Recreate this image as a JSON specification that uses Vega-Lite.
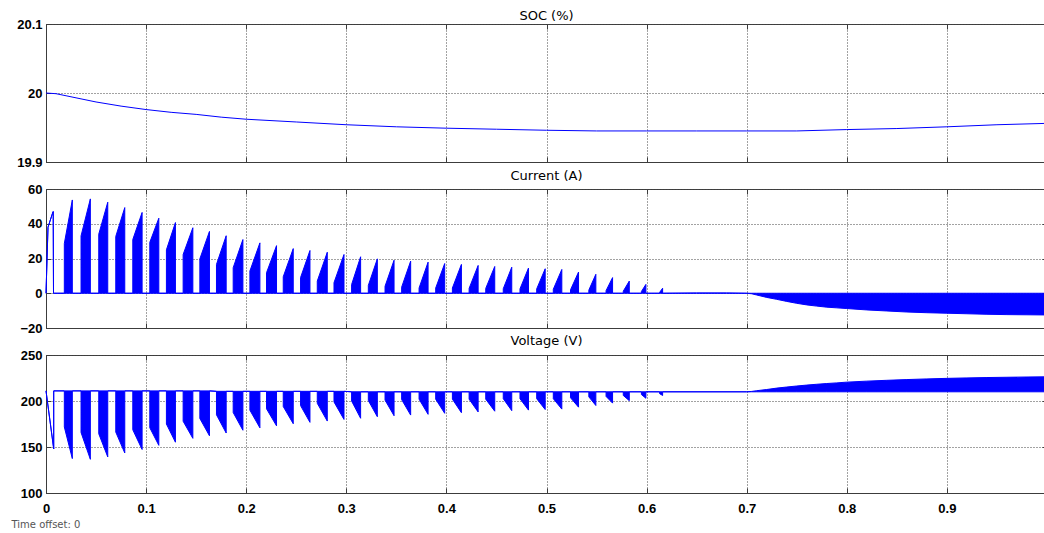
{
"$schema": "https://vega.github.io/schema/vega-lite/v6.json",
"padding": {"left": 10, "top": 9, "right": 0, "bottom": 0},
"background": "white",
"spacing": 27,
"bounds": "flush",
"datasets": {
"soc": [
{"t":0,"v":20.0},{"t":0.01,"v":19.999},{"t":0.02,"v":19.996},{"t":0.03,"v":19.993},{"t":0.05,"v":19.987},{"t":0.075,"v":19.981},{"t":0.1,"v":19.976},{"t":0.125,"v":19.972},{"t":0.15,"v":19.969},{"t":0.175,"v":19.965},{"t":0.2,"v":19.962},{"t":0.25,"v":19.958},{"t":0.3,"v":19.954},{"t":0.35,"v":19.951},{"t":0.4,"v":19.949},{"t":0.45,"v":19.9475},{"t":0.5,"v":19.946},{"t":0.55,"v":19.945},{"t":0.6,"v":19.945},{"t":0.65,"v":19.945},{"t":0.7,"v":19.945},{"t":0.75,"v":19.945},{"t":0.8,"v":19.947},{"t":0.85,"v":19.9485},{"t":0.9,"v":19.951},{"t":0.95,"v":19.954},{"t":1.0,"v":19.956}
],
"cur": [
{"t":0,"lo":0,"hi":0},{"t":0.002,"lo":38,"hi":38},{"t":0.0065,"lo":46,"hi":46},{"t":0.0072,"lo":47,"hi":47},{"t":0.0075,"lo":0,"hi":0},
{"t":0.0183,"lo":0,"hi":0},{"t":0.0183,"lo":0,"hi":28.6},{"t":0.0263,"lo":0,"hi":53.7},{"t":0.0263,"lo":0,"hi":0},
{"t":0.0350,"lo":0,"hi":0},{"t":0.0350,"lo":0,"hi":33.0},{"t":0.0443,"lo":0,"hi":54.3},{"t":0.0443,"lo":0,"hi":0},
{"t":0.0527,"lo":0,"hi":0},{"t":0.0527,"lo":0,"hi":34.0},{"t":0.0617,"lo":0,"hi":52.4},{"t":0.0617,"lo":0,"hi":0},
{"t":0.0697,"lo":0,"hi":0},{"t":0.0697,"lo":0,"hi":32.7},{"t":0.0787,"lo":0,"hi":49.3},{"t":0.0787,"lo":0,"hi":0},
{"t":0.0867,"lo":0,"hi":0},{"t":0.0867,"lo":0,"hi":30.9},{"t":0.0960,"lo":0,"hi":46.5},{"t":0.0960,"lo":0,"hi":0},
{"t":0.1037,"lo":0,"hi":0},{"t":0.1037,"lo":0,"hi":29.3},{"t":0.1127,"lo":0,"hi":43.2},{"t":0.1127,"lo":0,"hi":0},
{"t":0.1203,"lo":0,"hi":0},{"t":0.1203,"lo":0,"hi":25.0},{"t":0.1293,"lo":0,"hi":40.7},{"t":0.1293,"lo":0,"hi":0},
{"t":0.1370,"lo":0,"hi":0},{"t":0.1370,"lo":0,"hi":22.3},{"t":0.1467,"lo":0,"hi":37.7},{"t":0.1467,"lo":0,"hi":0},
{"t":0.1537,"lo":0,"hi":0},{"t":0.1537,"lo":0,"hi":19.8},{"t":0.1633,"lo":0,"hi":35.6},{"t":0.1633,"lo":0,"hi":0},
{"t":0.1703,"lo":0,"hi":0},{"t":0.1703,"lo":0,"hi":16.6},{"t":0.1800,"lo":0,"hi":33.1},{"t":0.1800,"lo":0,"hi":0},
{"t":0.1870,"lo":0,"hi":0},{"t":0.1870,"lo":0,"hi":14.7},{"t":0.1967,"lo":0,"hi":30.9},{"t":0.1967,"lo":0,"hi":0},
{"t":0.2037,"lo":0,"hi":0},{"t":0.2037,"lo":0,"hi":12.8},{"t":0.2137,"lo":0,"hi":29.0},{"t":0.2137,"lo":0,"hi":0},
{"t":0.2203,"lo":0,"hi":0},{"t":0.2203,"lo":0,"hi":11.8},{"t":0.2303,"lo":0,"hi":27.4},{"t":0.2303,"lo":0,"hi":0},
{"t":0.2370,"lo":0,"hi":0},{"t":0.2370,"lo":0,"hi":9.5},{"t":0.2470,"lo":0,"hi":25.7},{"t":0.2470,"lo":0,"hi":0},
{"t":0.2543,"lo":0,"hi":0},{"t":0.2543,"lo":0,"hi":9.0},{"t":0.2637,"lo":0,"hi":24.6},{"t":0.2637,"lo":0,"hi":0},
{"t":0.2710,"lo":0,"hi":0},{"t":0.2710,"lo":0,"hi":7.0},{"t":0.2810,"lo":0,"hi":23.6},{"t":0.2810,"lo":0,"hi":0},
{"t":0.2877,"lo":0,"hi":0},{"t":0.2877,"lo":0,"hi":6.1},{"t":0.2977,"lo":0,"hi":22.3},{"t":0.2977,"lo":0,"hi":0},
{"t":0.3053,"lo":0,"hi":0},{"t":0.3053,"lo":0,"hi":5.0},{"t":0.3143,"lo":0,"hi":21.0},{"t":0.3143,"lo":0,"hi":0},
{"t":0.3220,"lo":0,"hi":0},{"t":0.3220,"lo":0,"hi":4.5},{"t":0.3310,"lo":0,"hi":19.8},{"t":0.3310,"lo":0,"hi":0},
{"t":0.3387,"lo":0,"hi":0},{"t":0.3387,"lo":0,"hi":4.0},{"t":0.3477,"lo":0,"hi":19.0},{"t":0.3477,"lo":0,"hi":0},
{"t":0.3553,"lo":0,"hi":0},{"t":0.3553,"lo":0,"hi":3.5},{"t":0.3643,"lo":0,"hi":18.5},{"t":0.3643,"lo":0,"hi":0},
{"t":0.3727,"lo":0,"hi":0},{"t":0.3727,"lo":0,"hi":3.0},{"t":0.3817,"lo":0,"hi":17.9},{"t":0.3817,"lo":0,"hi":0},
{"t":0.3893,"lo":0,"hi":0},{"t":0.3893,"lo":0,"hi":3.0},{"t":0.3983,"lo":0,"hi":17.1},{"t":0.3983,"lo":0,"hi":0},
{"t":0.4060,"lo":0,"hi":0},{"t":0.4060,"lo":0,"hi":3.0},{"t":0.4150,"lo":0,"hi":16.6},{"t":0.4150,"lo":0,"hi":0},
{"t":0.4227,"lo":0,"hi":0},{"t":0.4227,"lo":0,"hi":2.8},{"t":0.4317,"lo":0,"hi":16.0},{"t":0.4317,"lo":0,"hi":0},
{"t":0.4393,"lo":0,"hi":0},{"t":0.4393,"lo":0,"hi":2.8},{"t":0.4483,"lo":0,"hi":15.4},{"t":0.4483,"lo":0,"hi":0},
{"t":0.4568,"lo":0,"hi":0},{"t":0.4568,"lo":0,"hi":2.6},{"t":0.4653,"lo":0,"hi":15.0},{"t":0.4653,"lo":0,"hi":0},
{"t":0.4735,"lo":0,"hi":0},{"t":0.4735,"lo":0,"hi":2.5},{"t":0.4820,"lo":0,"hi":14.5},{"t":0.4820,"lo":0,"hi":0},
{"t":0.4902,"lo":0,"hi":0},{"t":0.4902,"lo":0,"hi":2.5},{"t":0.4987,"lo":0,"hi":14.1},{"t":0.4987,"lo":0,"hi":0},
{"t":0.5068,"lo":0,"hi":0},{"t":0.5068,"lo":0,"hi":2.3},{"t":0.5153,"lo":0,"hi":13.7},{"t":0.5153,"lo":0,"hi":0},
{"t":0.5240,"lo":0,"hi":0},{"t":0.5240,"lo":0,"hi":2.0},{"t":0.5320,"lo":0,"hi":12.2},{"t":0.5320,"lo":0,"hi":0},
{"t":0.5423,"lo":0,"hi":0},{"t":0.5423,"lo":0,"hi":1.8},{"t":0.5493,"lo":0,"hi":10.9},{"t":0.5493,"lo":0,"hi":0},
{"t":0.5595,"lo":0,"hi":0},{"t":0.5595,"lo":0,"hi":1.5},{"t":0.5660,"lo":0,"hi":9.0},{"t":0.5660,"lo":0,"hi":0},
{"t":0.5767,"lo":0,"hi":0},{"t":0.5767,"lo":0,"hi":1.2},{"t":0.5827,"lo":0,"hi":7.0},{"t":0.5827,"lo":0,"hi":0},
{"t":0.5948,"lo":0,"hi":0},{"t":0.5948,"lo":0,"hi":1.0},{"t":0.5993,"lo":0,"hi":5.1},{"t":0.5993,"lo":0,"hi":0},
{"t":0.6130,"lo":0,"hi":0},{"t":0.6130,"lo":0,"hi":0.5},{"t":0.6160,"lo":0,"hi":2.9},{"t":0.6160,"lo":0,"hi":0},
{"t":0.65,"lo":0,"hi":0.2},{"t":0.68,"lo":0,"hi":0.2},{"t":0.70,"lo":0,"hi":0},
{"t":0.705,"lo":-0.3,"hi":0},{"t":0.71,"lo":-1.0,"hi":0},{"t":0.72,"lo":-2.4,"hi":0},{"t":0.73,"lo":-3.5,"hi":0},{"t":0.74,"lo":-4.7,"hi":0},{"t":0.75,"lo":-5.8,"hi":0},{"t":0.76,"lo":-6.7,"hi":0},{"t":0.77,"lo":-7.4,"hi":0},{"t":0.78,"lo":-8.0,"hi":0},{"t":0.79,"lo":-8.4,"hi":0},{"t":0.80,"lo":-8.8,"hi":0},{"t":0.82,"lo":-9.6,"hi":0},{"t":0.84,"lo":-10.2,"hi":0},{"t":0.86,"lo":-10.8,"hi":0},{"t":0.88,"lo":-11.2,"hi":0},{"t":0.90,"lo":-11.5,"hi":0},{"t":0.92,"lo":-11.8,"hi":0},{"t":0.94,"lo":-12.1,"hi":0},{"t":0.96,"lo":-12.3,"hi":0},{"t":0.98,"lo":-12.4,"hi":0},{"t":1.0,"lo":-12.5,"hi":0}
],
"volt": [
{"t":0,"lo":211,"hi":211},{"t":0.0077,"lo":148,"hi":148},{"t":0.0077,"lo":211,"hi":211},
{"t":0.0183,"lo":211,"hi":211},{"t":0.0183,"lo":171.8,"hi":211},{"t":0.0263,"lo":137.4,"hi":211},{"t":0.0263,"lo":211,"hi":211},
{"t":0.0350,"lo":211,"hi":211},{"t":0.0350,"lo":165.8,"hi":211},{"t":0.0443,"lo":136.6,"hi":211},{"t":0.0443,"lo":211,"hi":211},
{"t":0.0527,"lo":211,"hi":211},{"t":0.0527,"lo":164.4,"hi":211},{"t":0.0617,"lo":139.2,"hi":211},{"t":0.0617,"lo":211,"hi":211},
{"t":0.0697,"lo":211,"hi":211},{"t":0.0697,"lo":166.2,"hi":211},{"t":0.0787,"lo":143.5,"hi":211},{"t":0.0787,"lo":211,"hi":211},
{"t":0.0867,"lo":211,"hi":211},{"t":0.0867,"lo":168.7,"hi":211},{"t":0.0960,"lo":147.3,"hi":211},{"t":0.0960,"lo":211,"hi":211},
{"t":0.1037,"lo":211,"hi":211},{"t":0.1037,"lo":170.9,"hi":211},{"t":0.1127,"lo":151.8,"hi":211},{"t":0.1127,"lo":211,"hi":211},
{"t":0.1203,"lo":211,"hi":211},{"t":0.1203,"lo":175.0,"hi":211},{"t":0.1293,"lo":155.2,"hi":211},{"t":0.1293,"lo":211,"hi":211},
{"t":0.1370,"lo":211,"hi":211},{"t":0.1370,"lo":178.0,"hi":211},{"t":0.1467,"lo":159.4,"hi":211},{"t":0.1467,"lo":211,"hi":211},
{"t":0.1537,"lo":211,"hi":211},{"t":0.1537,"lo":181.0,"hi":211},{"t":0.1633,"lo":162.2,"hi":211},{"t":0.1633,"lo":211,"hi":211},
{"t":0.1703,"lo":210.5,"hi":210.5},{"t":0.1703,"lo":185.0,"hi":210.5},{"t":0.1800,"lo":165.2,"hi":210.5},{"t":0.1800,"lo":210.5,"hi":210.5},
{"t":0.1870,"lo":210.5,"hi":210.5},{"t":0.1870,"lo":187.5,"hi":210.5},{"t":0.1967,"lo":168.2,"hi":210.5},{"t":0.1967,"lo":210.5,"hi":210.5},
{"t":0.2037,"lo":210.5,"hi":210.5},{"t":0.2037,"lo":190.0,"hi":210.5},{"t":0.2137,"lo":170.8,"hi":210.5},{"t":0.2137,"lo":210.5,"hi":210.5},
{"t":0.2203,"lo":210.5,"hi":210.5},{"t":0.2203,"lo":191.5,"hi":210.5},{"t":0.2303,"lo":173.0,"hi":210.5},{"t":0.2303,"lo":210.5,"hi":210.5},
{"t":0.2370,"lo":210.5,"hi":210.5},{"t":0.2370,"lo":194.0,"hi":210.5},{"t":0.2470,"lo":175.3,"hi":210.5},{"t":0.2470,"lo":210.5,"hi":210.5},
{"t":0.2543,"lo":210.5,"hi":210.5},{"t":0.2543,"lo":195.0,"hi":210.5},{"t":0.2637,"lo":176.8,"hi":210.5},{"t":0.2637,"lo":210.5,"hi":210.5},
{"t":0.2710,"lo":210.5,"hi":210.5},{"t":0.2710,"lo":197.5,"hi":210.5},{"t":0.2810,"lo":178.2,"hi":210.5},{"t":0.2810,"lo":210.5,"hi":210.5},
{"t":0.2877,"lo":210.5,"hi":210.5},{"t":0.2877,"lo":199.0,"hi":210.5},{"t":0.2977,"lo":180.0,"hi":210.5},{"t":0.2977,"lo":210.5,"hi":210.5},
{"t":0.3053,"lo":210,"hi":210},{"t":0.3053,"lo":200.0,"hi":210},{"t":0.3143,"lo":181.2,"hi":210},{"t":0.3143,"lo":210,"hi":210},
{"t":0.3220,"lo":210,"hi":210},{"t":0.3220,"lo":200.5,"hi":210},{"t":0.3310,"lo":182.9,"hi":210},{"t":0.3310,"lo":210,"hi":210},
{"t":0.3387,"lo":210,"hi":210},{"t":0.3387,"lo":201.0,"hi":210},{"t":0.3477,"lo":184.0,"hi":210},{"t":0.3477,"lo":210,"hi":210},
{"t":0.3553,"lo":210,"hi":210},{"t":0.3553,"lo":201.5,"hi":210},{"t":0.3643,"lo":184.7,"hi":210},{"t":0.3643,"lo":210,"hi":210},
{"t":0.3727,"lo":210,"hi":210},{"t":0.3727,"lo":202.0,"hi":210},{"t":0.3817,"lo":185.5,"hi":210},{"t":0.3817,"lo":210,"hi":210},
{"t":0.3893,"lo":210,"hi":210},{"t":0.3893,"lo":202.0,"hi":210},{"t":0.3983,"lo":186.6,"hi":210},{"t":0.3983,"lo":210,"hi":210},
{"t":0.4060,"lo":210,"hi":210},{"t":0.4060,"lo":202.0,"hi":210},{"t":0.4150,"lo":187.3,"hi":210},{"t":0.4150,"lo":210,"hi":210},
{"t":0.4227,"lo":210,"hi":210},{"t":0.4227,"lo":202.0,"hi":210},{"t":0.4317,"lo":188.1,"hi":210},{"t":0.4317,"lo":210,"hi":210},
{"t":0.4393,"lo":210,"hi":210},{"t":0.4393,"lo":202.0,"hi":210},{"t":0.4483,"lo":188.9,"hi":210},{"t":0.4483,"lo":210,"hi":210},
{"t":0.4568,"lo":210,"hi":210},{"t":0.4568,"lo":202.5,"hi":210},{"t":0.4653,"lo":189.5,"hi":210},{"t":0.4653,"lo":210,"hi":210},
{"t":0.4735,"lo":210,"hi":210},{"t":0.4735,"lo":202.5,"hi":210},{"t":0.4820,"lo":190.1,"hi":210},{"t":0.4820,"lo":210,"hi":210},
{"t":0.4902,"lo":210,"hi":210},{"t":0.4902,"lo":202.5,"hi":210},{"t":0.4987,"lo":190.7,"hi":210},{"t":0.4987,"lo":210,"hi":210},
{"t":0.5068,"lo":210,"hi":210},{"t":0.5068,"lo":202.5,"hi":210},{"t":0.5153,"lo":191.2,"hi":210},{"t":0.5153,"lo":210,"hi":210},
{"t":0.5240,"lo":210,"hi":210},{"t":0.5240,"lo":203.5,"hi":210},{"t":0.5320,"lo":193.3,"hi":210},{"t":0.5320,"lo":210,"hi":210},
{"t":0.5423,"lo":210,"hi":210},{"t":0.5423,"lo":204.5,"hi":210},{"t":0.5493,"lo":195.1,"hi":210},{"t":0.5493,"lo":210,"hi":210},
{"t":0.5595,"lo":210,"hi":210},{"t":0.5595,"lo":205.0,"hi":210},{"t":0.5660,"lo":197.7,"hi":210},{"t":0.5660,"lo":210,"hi":210},
{"t":0.5767,"lo":210,"hi":210},{"t":0.5767,"lo":206.0,"hi":210},{"t":0.5827,"lo":200.4,"hi":210},{"t":0.5827,"lo":210,"hi":210},
{"t":0.5948,"lo":210,"hi":210},{"t":0.5948,"lo":207.0,"hi":210},{"t":0.5993,"lo":203.0,"hi":210},{"t":0.5993,"lo":210,"hi":210},
{"t":0.6130,"lo":210,"hi":210},{"t":0.6130,"lo":208.0,"hi":210},{"t":0.6160,"lo":206.0,"hi":210},{"t":0.6160,"lo":210,"hi":210},
{"t":0.70,"lo":210,"hi":210},
{"t":0.705,"lo":210,"hi":210.4},{"t":0.71,"lo":210,"hi":211.2},{"t":0.72,"lo":210,"hi":212.5},{"t":0.73,"lo":210,"hi":214.0},{"t":0.74,"lo":210,"hi":215.2},{"t":0.75,"lo":210,"hi":216.3},{"t":0.76,"lo":210,"hi":217.3},{"t":0.77,"lo":210,"hi":218.2},{"t":0.78,"lo":210,"hi":219.0},{"t":0.79,"lo":210,"hi":219.7},{"t":0.80,"lo":210,"hi":220.5},{"t":0.82,"lo":210,"hi":221.6},{"t":0.84,"lo":210,"hi":222.5},{"t":0.86,"lo":210,"hi":223.3},{"t":0.88,"lo":210,"hi":224.0},{"t":0.90,"lo":210,"hi":224.6},{"t":0.92,"lo":210,"hi":225.1},{"t":0.94,"lo":210,"hi":225.5},{"t":0.96,"lo":210,"hi":225.8},{"t":0.98,"lo":210,"hi":226.1},{"t":1.0,"lo":210,"hi":226.3}
]
},
"vconcat": [
{
"width": 1001, "height": 138,
"title": {"text": "SOC (%)", "offset": -5},
"data": {"name": "soc"},
"layer": [
{"mark": {"type": "line", "color": "#0000ff", "strokeWidth": 1},
 "encoding": {
  "x": {"field": "t", "type": "quantitative", "scale": {"domain": [0, 1], "nice": false},
        "axis": {"orient": "bottom", "values": [0,0.1,0.2,0.3,0.4,0.5,0.6,0.7,0.8,0.9], "labels": false, "grid": true, "tickSize": -5, "title": null}},
  "y": {"field": "v", "type": "quantitative", "scale": {"domain": [19.9, 20.1], "nice": false, "zero": false},
        "axis": {"orient": "left", "values": [19.9, 20, 20.1], "format": "~f", "grid": true, "tickSize": -5, "labelPadding": 9, "title": null}},
  "order": {"value": null}}},
{"mark": {"type": "line", "opacity": 0},
 "encoding": {
  "x": {"field": "t", "type": "quantitative", "axis": {"orient": "top", "values": [0.1,0.2,0.3,0.4,0.5,0.6,0.7,0.8,0.9], "labels": false, "grid": false, "domain": false, "tickSize": -5, "title": null}},
  "y": {"field": "v", "type": "quantitative", "axis": {"orient": "right", "values": [20], "labels": false, "grid": false, "domain": false, "tickSize": -5, "title": null}},
  "order": {"value": null}}}
]
},
{
"width": 1001, "height": 139,
"title": {"text": "Current (A)", "offset": 0},
"data": {"name": "cur"},
"layer": [
{"mark": {"type": "area", "color": "#0000ff", "opacity": 1},
 "encoding": {
  "x": {"field": "t", "type": "quantitative", "scale": {"domain": [0, 1], "nice": false},
        "axis": {"orient": "bottom", "values": [0,0.1,0.2,0.3,0.4,0.5,0.6,0.7,0.8,0.9], "labels": false, "grid": true, "tickSize": -5, "title": null}},
  "y": {"field": "lo", "type": "quantitative", "scale": {"domain": [-20, 60], "nice": false, "zero": false},
        "axis": {"orient": "left", "values": [-20, 0, 20, 40, 60], "format": "~f", "grid": true, "tickSize": -5, "labelPadding": 9, "title": null}},
  "y2": {"field": "hi"},
  "order": {"value": null}}},
{"mark": {"type": "line", "color": "#0000ff", "strokeWidth": 1},
 "encoding": {
  "x": {"field": "t", "type": "quantitative", "axis": {"orient": "top", "values": [0.1,0.2,0.3,0.4,0.5,0.6,0.7,0.8,0.9], "labels": false, "grid": false, "domain": false, "tickSize": -5, "title": null}},
  "y": {"field": "lo", "type": "quantitative", "axis": {"orient": "right", "values": [0, 20, 40], "labels": false, "grid": false, "domain": false, "tickSize": -5, "title": null}},
  "order": {"value": null}}},
{"mark": {"type": "line", "color": "#0000ff", "strokeWidth": 1},
 "encoding": {
  "x": {"field": "t", "type": "quantitative", "axis": null},
  "y": {"field": "hi", "type": "quantitative", "axis": null},
  "order": {"value": null}}}
]
},
{
"width": 1001, "height": 138,
"title": {"text": "Voltage (V)", "offset": 1.5},
"data": {"name": "volt"},
"layer": [
{"mark": {"type": "area", "color": "#0000ff", "opacity": 1},
 "encoding": {
  "x": {"field": "t", "type": "quantitative", "scale": {"domain": [0, 1], "nice": false},
        "axis": {"orient": "bottom", "values": [0,0.1,0.2,0.3,0.4,0.5,0.6,0.7,0.8,0.9], "format": "~f", "labels": true, "grid": true, "tickSize": -5, "labelPadding": 14,
                 "title": "Time offset:   0", "titleX": -35, "titleY": 31, "titleAlign": "left", "titleAnchor": "start", "titleBaseline": "middle",
                 "titleFont": "DejaVu Sans", "titleFontSize": 10, "titleFontWeight": "normal", "titleColor": "#555555"}},
  "y": {"field": "lo", "type": "quantitative", "scale": {"domain": [100, 250], "nice": false, "zero": false},
        "axis": {"orient": "left", "values": [100, 150, 200, 250], "format": "~f", "grid": true, "tickSize": -5, "labelPadding": 9, "title": null}},
  "y2": {"field": "hi"},
  "order": {"value": null}}},
{"mark": {"type": "line", "color": "#0000ff", "strokeWidth": 1},
 "encoding": {
  "x": {"field": "t", "type": "quantitative", "axis": {"orient": "top", "values": [0.1,0.2,0.3,0.4,0.5,0.6,0.7,0.8,0.9], "labels": false, "grid": false, "domain": false, "tickSize": -5, "title": null}},
  "y": {"field": "lo", "type": "quantitative", "axis": {"orient": "right", "values": [150, 200], "labels": false, "grid": false, "domain": false, "tickSize": -5, "title": null}},
  "order": {"value": null}}},
{"mark": {"type": "line", "color": "#0000ff", "strokeWidth": 1},
 "encoding": {
  "x": {"field": "t", "type": "quantitative", "axis": null},
  "y": {"field": "hi", "type": "quantitative", "axis": null},
  "order": {"value": null}}}
]
}
],
"config": {
 "view": {"stroke": "#3c3c3c", "strokeWidth": 1},
 "axis": {"labelFont": "Liberation Sans", "labelFontSize": 13, "labelFontWeight": "bold", "labelColor": "#000000", "labelFlush": false,
          "domainColor": "#3c3c3c", "tickColor": "#3c3c3c", "gridColor": "#444444", "gridDash": [1, 2], "gridOpacity": 1, "gridWidth": 1},
 "title": {"font": "DejaVu Sans", "fontSize": 13, "fontWeight": "normal", "color": "#000000", "anchor": "middle"}
}
}
